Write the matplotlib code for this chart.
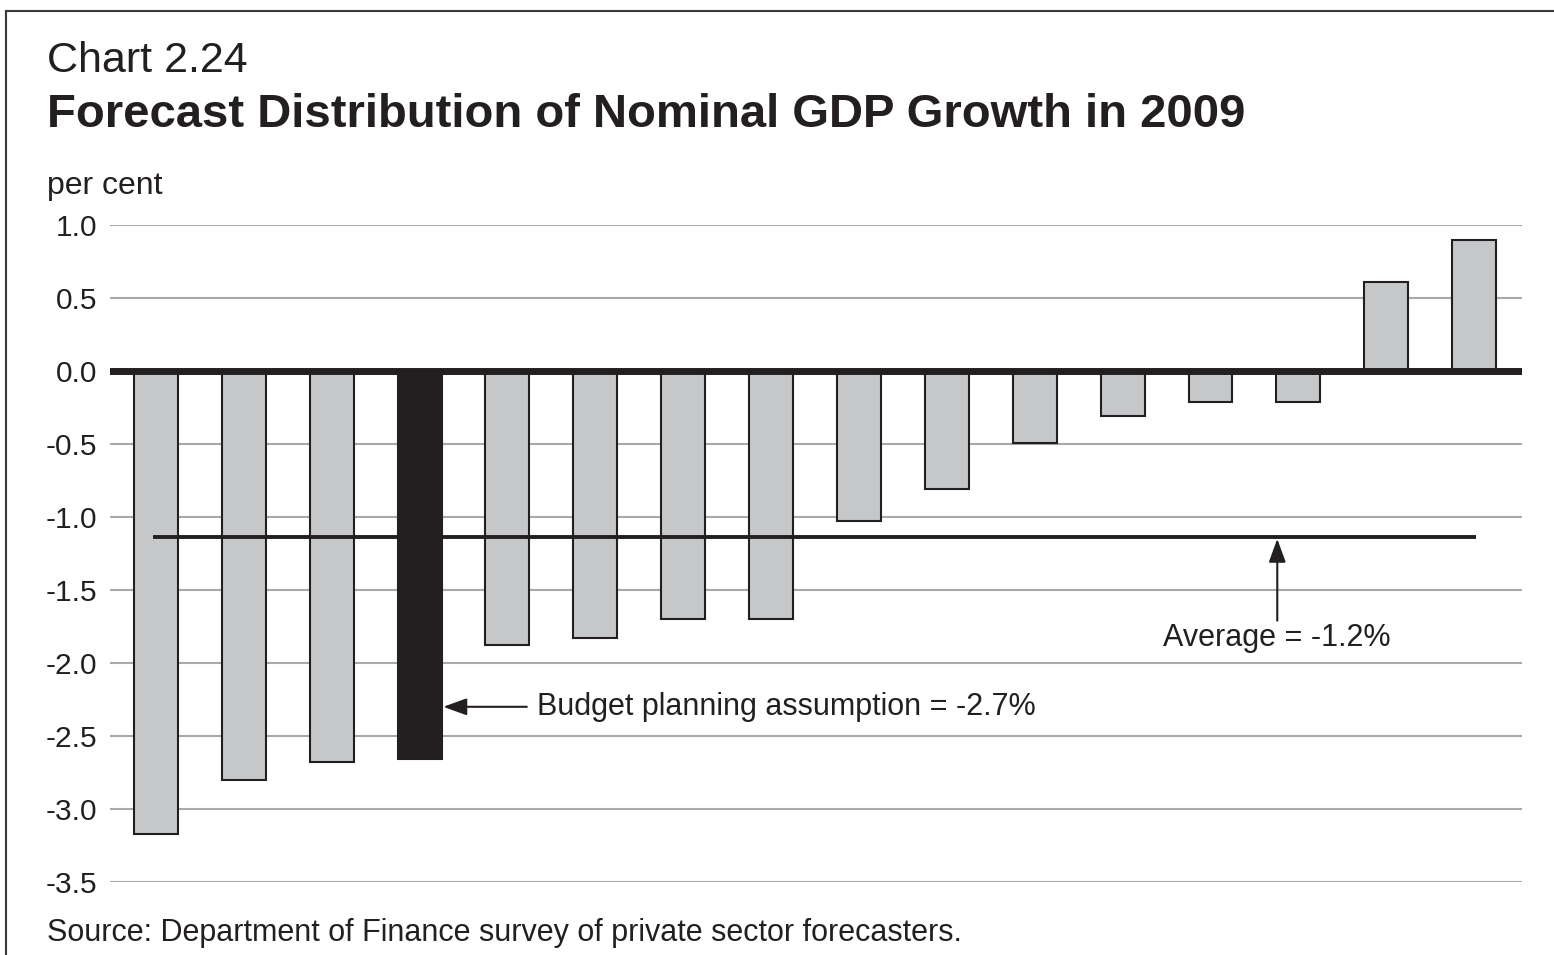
import matplotlib
matplotlib.use('Agg')
import matplotlib.pyplot as plt
from matplotlib.lines import Line2D

plt.rcParams['font.family'] = ['Liberation Sans', 'DejaVu Sans']

# forecasts, sorted low to high; index 3 is the budget planning assumption
values = [-3.17, -2.80, -2.68, -2.66, -1.88, -1.83, -1.70, -1.70,
          -1.03, -0.81, -0.49, -0.31, -0.21, -0.21, 0.61, 0.90]
budget_idx = 3
average = -1.14
y_ticks = [1.0, 0.5, 0.0, -0.5, -1.0, -1.5, -2.0, -2.5, -3.0, -3.5]

GRAY = '#c6c7c9'
INK = '#231f20'
HEAD = '-|>,head_length=0.55,head_width=0.2'

fig = plt.figure(figsize=(15.54, 9.55), dpi=100)
ax = fig.add_axes([110/1554, 73/955, 1412/1554, 657/955])

x = list(range(len(values)))
colors_ = [INK if i == budget_idx else GRAY for i in x]
ax.bar(x, values, width=0.5, color=colors_, edgecolor=INK, linewidth=1.5, zorder=3)

ax.set_xlim(-0.523, 15.545)
ax.set_ylim(-3.5, 1.0)
ax.set_yticks(y_ticks)
ax.set_yticklabels([f'{t:.1f}' for t in y_ticks], fontsize=21.5, color=INK)
ax.tick_params(axis='y', length=0, pad=9)
ax.set_xticks([])
for s in ax.spines.values():
    s.set_visible(False)
ax.grid(axis='y', color='#a7a9ac', linewidth=1.5, zorder=1)
ax.set_axisbelow(True)

# zero line
ax.axhline(0, color=INK, linewidth=5, zorder=4)

# average line
ax.plot([-0.03, 15.02], [average, average], color=INK, linewidth=2.8, zorder=4,
        solid_capstyle='butt')
ax.annotate('', xy=(12.76, average), xytext=(12.76, -1.71),
            arrowprops=dict(arrowstyle=HEAD, color=INK, lw=1.5,
                            mutation_scale=26, shrinkA=0, shrinkB=1), zorder=5)
ax.text(12.76, -1.83, 'Average = -1.2%', fontsize=22, color=INK,
        ha='center', va='center')

# budget arrow
ax.annotate('', xy=(3.27, -2.30), xytext=(4.22, -2.30),
            arrowprops=dict(arrowstyle=HEAD, color=INK, lw=1.5,
                            mutation_scale=26, shrinkA=0, shrinkB=0), zorder=5)
ax.text(4.34, -2.30, 'Budget planning assumption = -2.7%', fontsize=22, color=INK,
        ha='left', va='center')

# titles
fig.text(47/1554, 1 - 72/955, 'Chart 2.24', fontsize=31, color=INK, ha='left', va='baseline')
fig.text(47/1554, 1 - 127/955, 'Forecast Distribution of Nominal GDP Growth in 2009',
         fontsize=34, fontweight='bold', color=INK, ha='left', va='baseline')
fig.text(47/1554, 1 - 194/955, 'per cent', fontsize=23, color=INK, ha='left', va='baseline')
fig.text(47/1554, 1 - 941/955, 'Source: Department of Finance survey of private sector forecasters.',
         fontsize=22, color=INK, ha='left', va='baseline')

# frame: top and left edges
fig.add_artist(Line2D([6/1554, 1.0], [1 - 11/955, 1 - 11/955], color='#3a3a3a', linewidth=1.5))
fig.add_artist(Line2D([6/1554, 6/1554], [0, 1 - 11/955], color='#3a3a3a', linewidth=1.5))

fig.savefig('out.png', dpi=100)
